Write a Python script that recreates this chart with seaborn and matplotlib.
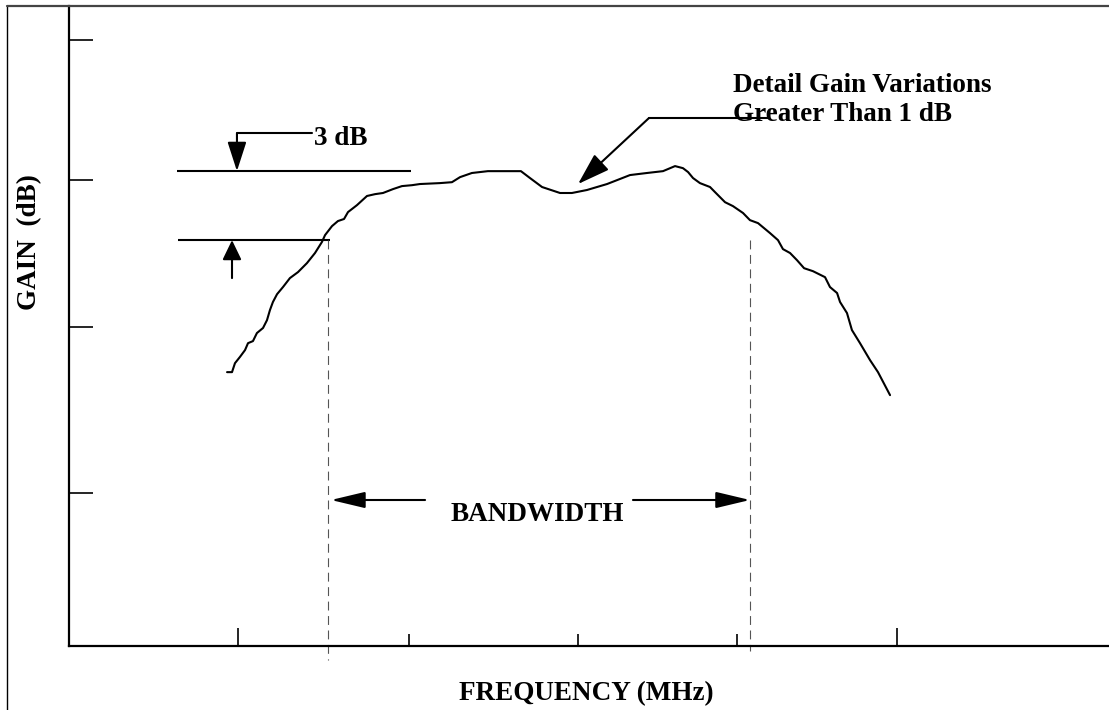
import matplotlib
matplotlib.use("Agg")
import matplotlib.pyplot as plt
from matplotlib.lines import Line2D
import pandas as pd
import seaborn as sns

# Amplifier response: frequency (MHz, relative scale) and gain (dB)
freq_mhz = [
    9.58, 9.88, 10.06, 10.36, 10.67, 10.85, 11.15, 11.39, 11.76, 12.00,
    12.18, 12.36, 12.61, 12.97, 13.39, 13.88, 14.42, 14.91, 15.33, 15.52,
    15.94, 16.30, 16.67, 16.91, 17.45, 18.06, 18.55, 19.03, 19.64, 20.18,
    20.79, 21.27, 22.48, 23.21, 23.70, 24.42, 25.39, 27.39, 27.94, 28.67,
    29.76, 30.48, 31.39, 32.61, 34.00, 35.03, 36.00, 36.73, 37.21, 37.52,
    37.82, 38.24, 38.85, 39.15, 39.76, 40.24, 40.85, 41.27, 41.76, 42.48,
    42.97, 43.27, 43.70, 44.12, 44.55, 45.09, 45.82, 46.12, 46.55, 46.73,
    47.15, 47.45, 47.94, 48.55, 49.03, 49.76,
]
gain_db = [
    11.91, 11.91, 12.30, 12.57, 12.87, 13.17, 13.26, 13.61, 13.83, 14.17,
    14.61, 14.96, 15.30, 15.61, 16.00, 16.26, 16.65, 17.09, 17.57, 17.87,
    18.26, 18.48, 18.57, 18.87, 19.17, 19.57, 19.65, 19.70, 19.87, 20.00,
    20.04, 20.09, 20.13, 20.17, 20.39, 20.57, 20.65, 20.65, 20.35, 19.96,
    19.70, 19.70, 19.83, 20.09, 20.48, 20.57, 20.65, 20.87, 20.78, 20.61,
    20.35, 20.13, 19.96, 19.74, 19.30, 19.13, 18.83, 18.52, 18.39, 17.96,
    17.65, 17.26, 17.09, 16.78, 16.43, 16.30, 16.04, 15.61, 15.35, 14.96,
    14.48, 13.74, 13.17, 12.43, 11.91, 10.91,
]

# Unlabelled tick marks on both axes
x_major_ticks = [10.24, 50.18]
x_minor_ticks = [20.61, 30.85, 40.48]
y_ticks = [6.65, 13.87, 20.26, 26.35]

# -3 dB bandwidth construction
ref_level_db = 20.65
drop_db = 3.0
half_power_db = ref_level_db - drop_db
band_edges_mhz = [15.70, 41.27]

sns.set_style("white")
plt.rcParams["font.family"] = ["Liberation Serif", "DejaVu Serif"]
plt.rcParams["font.weight"] = "bold"

fig = plt.figure(figsize=(11.09, 7.10), dpi=100)
ax = fig.add_axes([0.0622, 0.0901, 0.9378, 0.9014])

df = pd.DataFrame({"Frequency": freq_mhz, "Gain": gain_db})
sns.lineplot(data=df, x="Frequency", y="Gain", ax=ax, color="black",
             linewidth=1.5, sort=False, estimator=None)

ax.set_xlim(0, 63.03)
ax.set_ylim(0, 27.83)
for side in ["top", "right"]:
    ax.spines[side].set_visible(False)
for side in ["left", "bottom"]:
    ax.spines[side].set_linewidth(1.6)
    ax.spines[side].set_color("black")

ax.set_xticks(x_major_ticks)
ax.set_xticks(x_minor_ticks, minor=True)
ax.set_yticks(y_ticks)
ax.tick_params(axis="x", which="major", direction="in", length=13, width=1.2,
               color="black", bottom=True, labelbottom=False)
ax.tick_params(axis="x", which="minor", direction="in", length=9, width=1.2,
               color="black", bottom=True)
ax.tick_params(axis="y", which="major", direction="in", length=17, width=1.2,
               color="black", left=True, labelleft=False)
ax.grid(False)

# Reference level and half-power level
ax.hlines(ref_level_db, 6.55, 20.73, color="black", lw=1.5)
ax.hlines(half_power_db, 6.61, 15.82, color="black", lw=1.5)

# Band edges
ax.plot([band_edges_mhz[0]] * 2, [half_power_db, -0.61], color="#555555",
        lw=0.8, ls=(0, (8, 5)), clip_on=False)
ax.plot([band_edges_mhz[1]] * 2, [half_power_db, -0.2], color="#555555",
        lw=0.8, ls=(0, (8, 5)), clip_on=False)


def arrow(tail, tip, head_length, head_width):
    ax.annotate("", xy=tip, xytext=tail,
                arrowprops=dict(arrowstyle=f"-|>,head_length={head_length},"
                                           f"head_width={head_width}",
                                color="black", lw=1.5, shrinkA=0, shrinkB=0,
                                mutation_scale=10))


text_style = dict(fontsize=19.5, fontweight="bold", color="black")

# 3 dB callout
ax.plot([10.18, 14.73], [22.30, 22.30], color="black", lw=1.5)
arrow((10.18, 22.30), (10.18, ref_level_db), 1.8, 0.58)
arrow((9.88, 16.0), (9.88, half_power_db), 1.2, 0.58)
ax.text(14.85, 21.78, f"{drop_db:.0f} dB", ha="left", va="baseline", **text_style)

# Ripple callout
ax.plot([35.15, 42.36], [22.96, 22.96], color="black", lw=1.5)
arrow((35.15, 22.96), (30.85, 20.09), 2.0, 0.65)
ax.text(40.24, 24.09, "Detail Gain Variations", ha="left", va="baseline", **text_style)
ax.text(40.24, 22.83, "Greater Than 1 dB", ha="left", va="baseline", **text_style)

# Bandwidth span
arrow((21.58, 6.35), (band_edges_mhz[0] + 0.18, 6.35), 2.1, 0.5)
arrow((34.18, 6.35), (band_edges_mhz[1], 6.35), 2.1, 0.5)
ax.text(28.36, 5.43, "BANDWIDTH", ha="center", va="baseline", **text_style)

# Axis titles
ax.set_xlabel("FREQUENCY (MHz)", **text_style)
ax.set_ylabel("GAIN  (dB)", **text_style)
ax.xaxis.set_label_coords(0.497, -0.075)
ax.xaxis.label.set_va("center")
ax.yaxis.set_label_coords(-0.0375, 0.631)
ax.yaxis.label.set_va("center")

# Page frame
fig.add_artist(Line2D([0.0063, 0.0063], [0.0, 0.9915], color="black", lw=1.0,
                      transform=fig.transFigure))
fig.add_artist(Line2D([0.0063, 1.0], [0.9915, 0.9915], color="#444444", lw=1.6,
                      transform=fig.transFigure))

fig.savefig("out.png", dpi=100)
